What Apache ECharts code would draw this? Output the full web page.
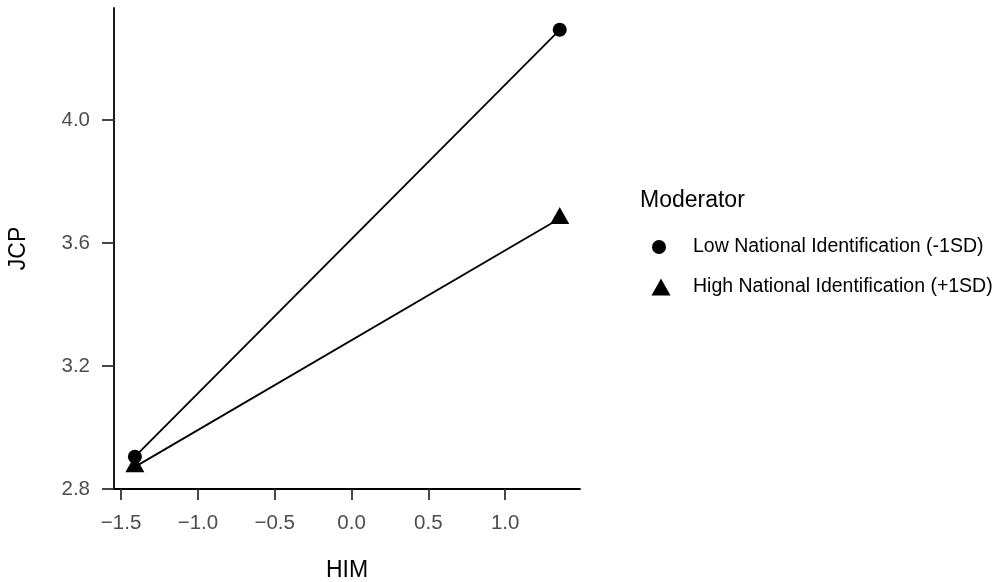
<!DOCTYPE html>
<html><head><meta charset="utf-8">
<script src="https://cdn.jsdelivr.net/npm/echarts@6/dist/echarts.min.js"></script>
<style>html,body{margin:0;padding:0;background:#fff}#c{width:1006px;height:582px}</style>
</head><body><div id="c"></div>
<script>
const himValues = [-1.41, 1.355];
const lowNI = [2.905, 4.294];
const highNI = [2.872, 3.680];
const seriesNames = ['Low National Identification (-1SD)', 'High National Identification (+1SD)'];
const xTicks = [-1.5, -1.0, -0.5, 0.0, 0.5, 1.0];
const yTicks = [2.8, 3.2, 3.6, 4.0];
const legendTitle = 'Moderator';
const xName = 'HIM', yName = 'JCP';

const FONT = '"Liberation Sans", Arial, Helvetica, sans-serif';
const chart = echarts.init(document.getElementById('c'), null, {renderer: 'canvas'});
const pairs = (xs, ys) => xs.map((x, i) => [x, ys[i]]);
const fmt = v => (v < 0 ? '\u2212' : '') + Math.abs(v).toFixed(1);

chart.setOption({
  animation: false,
  backgroundColor: '#fff',
  grid: {left: 114, right: 426, top: 8, bottom: 93, containLabel: false, outerBoundsMode: 'none'},
  title: {
    text: legendTitle, left: 635, top: 184,
    textStyle: {fontFamily: FONT, fontSize: 23, fontWeight: 'normal', color: '#000'}
  },
  legend: [
    {
      data: [{name: seriesNames[0], icon: 'circle'}],
      orient: 'vertical', left: 647, top: 232,
      itemWidth: 14, itemHeight: 14, itemGap: 0,
      textStyle: {fontFamily: FONT, fontSize: 19.5, color: '#000', padding: [0, 0, 0, 22]},
      selectedMode: false
    },
    {
      data: [{name: seriesNames[1], icon: 'triangle'}],
      orient: 'vertical', left: 646.5, top: 272,
      itemWidth: 19, itemHeight: 17, itemGap: 0,
      textStyle: {fontFamily: FONT, fontSize: 19.5, color: '#000', padding: [0, 0, 0, 17.5]},
      selectedMode: false
    }
  ],
  xAxis: {
    type: 'value', min: -1.546, max: 1.487,
    name: xName, nameLocation: 'middle', nameGap: 70,
    nameTextStyle: {fontFamily: FONT, fontSize: 23, color: '#000'},
    axisLine: {show: true, onZero: false, lineStyle: {color: '#000', width: 1.8}},
    axisTick: {show: true, length: 11, customValues: xTicks, lineStyle: {color: '#333', width: 1.8}},
    axisLabel: {customValues: xTicks, formatter: fmt, margin: 24, fontFamily: FONT, fontSize: 20.5, color: '#4d4d4d'},
    splitLine: {show: false}
  },
  yAxis: {
    type: 'value', min: 2.8, max: 4.365,
    name: yName, nameLocation: 'middle', nameGap: 84, nameRotate: 90,
    nameTextStyle: {fontFamily: FONT, fontSize: 23, color: '#000'},
    axisLine: {show: true, onZero: false, lineStyle: {color: '#000', width: 1.8}},
    axisTick: {show: true, length: 12, customValues: yTicks, lineStyle: {color: '#333', width: 1.8}},
    axisLabel: {customValues: yTicks, formatter: v => v.toFixed(1), margin: 24, fontFamily: FONT, fontSize: 20.5, color: '#4d4d4d'},
    splitLine: {show: false}
  },
  series: [
    {
      name: seriesNames[0], type: 'line', data: pairs(himValues, lowNI),
      symbol: 'circle', symbolSize: 14, showAllSymbol: true,
      itemStyle: {color: '#000'}, lineStyle: {color: '#000', width: 1.8}, z: 3
    },
    {
      name: seriesNames[1], type: 'line', data: pairs(himValues, highNI),
      symbol: 'triangle', symbolSize: [19, 17], symbolOffset: [0, -3], showAllSymbol: true,
      itemStyle: {color: '#000'}, lineStyle: {color: '#000', width: 1.8}, z: 2
    }
  ]
});
</script></body></html>
